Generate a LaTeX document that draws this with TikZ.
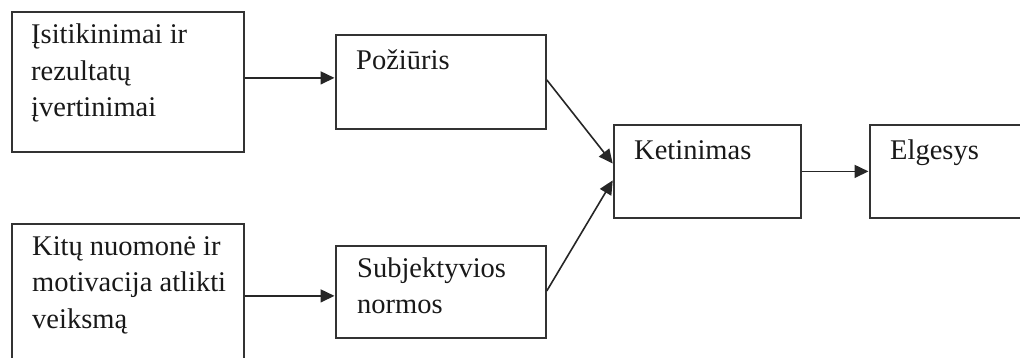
\documentclass[tikz,border=0pt]{standalone}
\usepackage{fontspec}
\setmainfont{Liberation Serif}
\usetikzlibrary{arrows.meta}
\tikzset{
  boxnode/.style={draw=black!80, line width=1.8pt, rectangle, inner sep=0pt, anchor=north west},
  txt/.style={anchor=base west, inner sep=0pt, text=black!90, font=\fontsize{28.5}{36.5}\selectfont},
  arr/.style={draw=black!85, line width=1.6pt, -{Triangle[length=14pt,width=13pt]}, shorten >=0.5pt}
}
\begin{document}
\begin{tikzpicture}[x=1pt,y=-1pt]
\useasboundingbox (0,0) rectangle (1020,358);
\clip (0,0) rectangle (1020,358);
% boxes
\node[boxnode, minimum width=232pt, minimum height=140pt] (b1) at (11,11) {};
\node[boxnode, minimum width=232pt, minimum height=160pt] (b2) at (11,223) {};
\node[boxnode, minimum width=210pt, minimum height=94pt] (b3) at (335,34) {};
\node[boxnode, minimum width=210pt, minimum height=92pt] (b4) at (335,245) {};
\node[boxnode, minimum width=187pt, minimum height=93pt] (b5) at (613,124) {};
\node[boxnode, minimum width=170pt, minimum height=93pt] (b6) at (869,124) {};
% texts
\node[txt] (t1) at (31,44) {\parbox[t]{210pt}{Įsitikinimai ir\\rezultatų\\įvertinimai}};
\node[txt] (t2) at (32,255) {\parbox[t]{210pt}{Kitų nuomonė ir\\motivacija atlikti\\veiksmą}};
\node[txt] (t3) at (356,70) {Požiūris};
\node[txt] (t4) at (357,277) {\parbox[t]{185pt}{Subjektyvios\\normos}};
\node[txt] (t5) at (634,160) {Ketinimas};
\node[txt] (t6) at (890,160) {Elgesys};
% connectors
\draw[arr] ([yshift=4pt]b1.east) -- ([yshift=4pt]b1.east -| b3.west);
\draw[arr] ([yshift=8pt]b2.east) -- ([yshift=8pt]b2.east -| b4.west);
\draw[arr] ([yshift=2pt]b3.east) -- ([yshift=7.5pt]b5.west);
\draw[arr] ([yshift=1pt]b4.east) -- ([yshift=-8.5pt]b5.west);
\draw[arr] (b5.east) -- (b5.east -| b6.west);
\end{tikzpicture}
\end{document}
